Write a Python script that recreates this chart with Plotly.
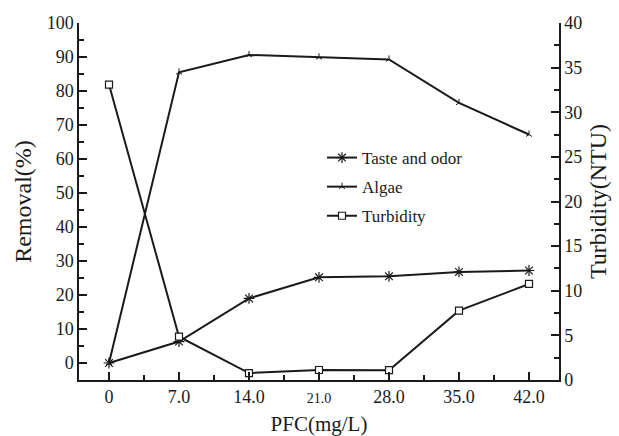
import plotly.graph_objects as go

pfc = [0, 7, 14, 21, 28, 35, 42]
x_ticktext = ["0", "7.0", "14.0", "<span style=\"font-size:14px\">21.0</span>", "28.0", "35.0", "42.0"]
taste_odor = [0, 6.3, 19.0, 25.2, 25.5, 26.8, 27.2]
algae = [0, 85.5, 90.6, 89.9, 89.3, 76.5, 67.2]
turbidity = [33.1, 4.85, 0.78, 1.12, 1.1, 7.77, 10.76]

FONT = "Liberation Serif, Times New Roman, serif"
BLACK = "#1a1a1a"

fig = go.Figure()
fig.add_trace(go.Scatter(
    x=pfc, y=taste_odor, name="Taste and odor", mode="lines+markers",
    line=dict(color=BLACK, width=2), legendgroup="a",
    marker=dict(symbol="asterisk-open", size=9, line=dict(color=BLACK, width=1.2)),
))
fig.add_trace(go.Scatter(
    x=pfc, y=algae, name="Algae", mode="lines+markers",
    line=dict(color=BLACK, width=2), legendgroup="b",
    marker=dict(symbol="y-up-open", size=5, line=dict(color=BLACK, width=1)),
))
fig.add_trace(go.Scatter(
    x=pfc, y=turbidity, name="Turbidity", mode="lines+markers", yaxis="y2",
    line=dict(color=BLACK, width=2), legendgroup="c",
    marker=dict(symbol="square", size=7, color="white", line=dict(color=BLACK, width=1.2)),
))

tickfont = dict(family=FONT, size=18, color=BLACK)

fig.update_layout(
    width=619, height=436,
    margin=dict(l=79, r=60, t=23, b=56, autoexpand=False),
    paper_bgcolor="white", plot_bgcolor="white",
    font=dict(family=FONT, color=BLACK),
    showlegend=True,
    legend=dict(
        x=(322 - 79) / 480, y=1 - (140 - 23) / 357, xanchor="left", yanchor="top",
        font=dict(family=FONT, size=17, color=BLACK),
        bgcolor="rgba(0,0,0,0)", borderwidth=0, tracegroupgap=4, itemwidth=30,
    ),
    xaxis=dict(
        range=[-3, 45], tickmode="array", tickvals=pfc, ticktext=x_ticktext,
        ticks="inside", ticklen=8, tickwidth=1.5, tickcolor=BLACK,
        minor=dict(tickmode="linear", tick0=0, dtick=3.5, ticks="inside", ticklen=5, tickwidth=1.5, tickcolor=BLACK),
        showline=True, linecolor=BLACK, linewidth=1.5, showgrid=False, zeroline=False,
        tickfont=tickfont, automargin=False,
        title=dict(text="PFC(mg/L)", font=dict(family=FONT, size=21, color=BLACK), standoff=14),
    ),
    yaxis=dict(
        range=[-5, 100], tickmode="linear", tick0=0, dtick=10,
        ticks="inside", ticklen=8, tickwidth=1.5, tickcolor=BLACK,
        minor=dict(tickmode="linear", tick0=5, dtick=10, ticks="inside", ticklen=5, tickwidth=1.5, tickcolor=BLACK),
        showline=True, linecolor=BLACK, linewidth=1.5, showgrid=False, zeroline=False,
        tickfont=tickfont, automargin=False,
        title=dict(text="Removal(%)", font=dict(family=FONT, size=24, color=BLACK), standoff=8),
    ),
    yaxis2=dict(
        range=[0, 40], overlaying="y", side="right", tickmode="linear", tick0=0, dtick=5,
        ticks="inside", ticklen=8, tickwidth=1.5, tickcolor=BLACK,
        minor=dict(tickmode="linear", tick0=2.5, dtick=5, ticks="inside", ticklen=5, tickwidth=1.5, tickcolor=BLACK),
        showline=True, linecolor=BLACK, linewidth=1.5, showgrid=False, zeroline=False,
        tickfont=tickfont, automargin=False,
        title=dict(text="Turbidity(NTU)", font=dict(family=FONT, size=24, color=BLACK), standoff=8),
    ),
)

fig.write_html("out.html")
